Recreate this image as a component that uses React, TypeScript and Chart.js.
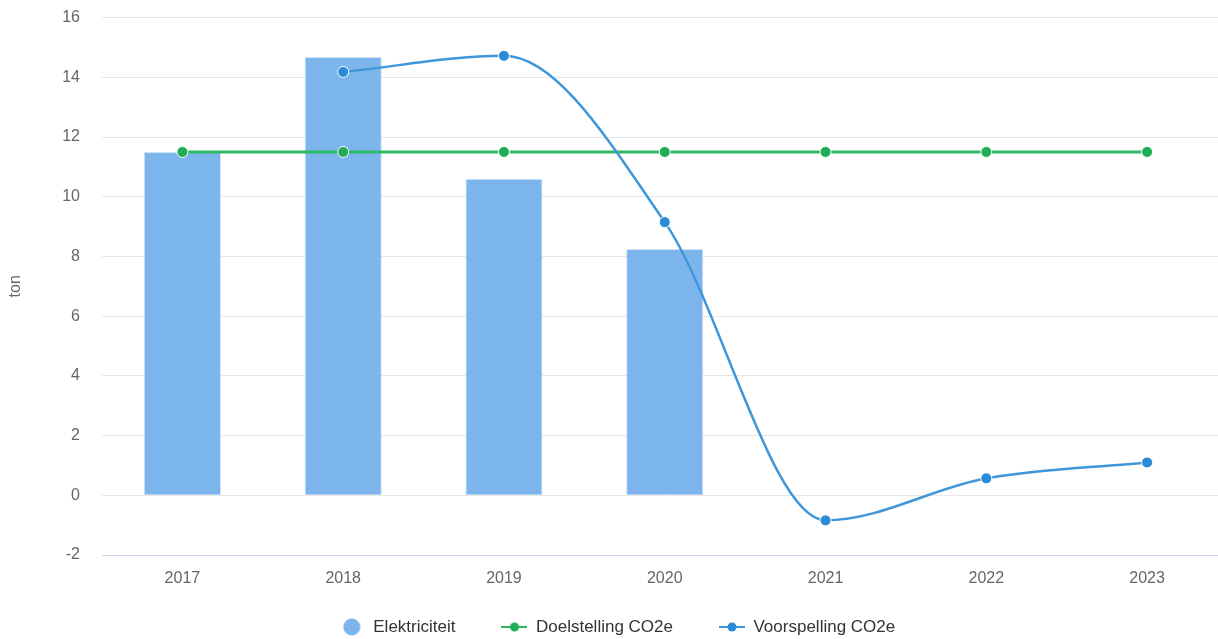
import React, { useEffect, useRef } from "react";
import { Chart, registerables } from "chart.js";

Chart.register(...registerables);

const categories = ["2017", "2018", "2019", "2020", "2021", "2022", "2023"];
const elektriciteit = [11.5, 14.68, 10.6, 8.25, null, null, null];
const doelstelling = [11.5, 11.5, 11.5, 11.5, 11.5, 11.5, 11.5];
const voorspelling = [null, 14.18, 14.72, 9.15, -0.84, 0.57, 1.1];
const yTicks = [-2, 0, 2, 4, 6, 8, 10, 12, 14, 16];

const FONT = "'Liberation Sans', Arial, Helvetica, sans-serif";
const SHIFT = 14;
const CANVAS_W = 1234;
const CANVAS_H = 639 + SHIFT;
const LEGEND_PAD = 46;

function makeLineSymbol(lineColor: string, dotColor: string): HTMLCanvasElement {
  const c = document.createElement("canvas");
  c.width = 26;
  c.height = 12;
  const ctx = c.getContext("2d")!;
  ctx.strokeStyle = lineColor;
  ctx.lineWidth = 2;
  ctx.beginPath();
  ctx.moveTo(0, 6);
  ctx.lineTo(26, 6);
  ctx.stroke();
  ctx.fillStyle = dotColor;
  ctx.beginPath();
  ctx.arc(13, 6, 4.5, 0, Math.PI * 2);
  ctx.fill();
  return c;
}

function makeCircleSymbol(color: string): HTMLCanvasElement {
  const c = document.createElement("canvas");
  c.width = 18;
  c.height = 18;
  const ctx = c.getContext("2d")!;
  ctx.fillStyle = color;
  ctx.beginPath();
  ctx.arc(9, 9, 8.5, 0, Math.PI * 2);
  ctx.fill();
  return c;
}

export default function App() {
  const ref = useRef<HTMLCanvasElement | null>(null);

  useEffect(() => {
    if (!ref.current) return;
    const symbols = [
      makeCircleSymbol("#7cb5ec"),
      makeLineSymbol("#2fb862", "#1fad56"),
      makeLineSymbol("#3f97da", "#2a8bd6"),
    ];
    const legendPlacePlugin = {
      id: "legendPlace",
      beforeInit(chart: any) {
        const orig = chart.legend.fit;
        chart.legend.fit = function () {
          orig.call(this);
          this.height = 40;
        };
      },
      afterLayout(chart: any) {
        chart.legend.top = 641 - 8.5 - LEGEND_PAD;
        chart.legend.bottom = CANVAS_H;
      },
    };
    const chart = new Chart(ref.current, {
      type: "bar",
      data: {
        labels: categories,
        datasets: [
          {
            type: "bar",
            label: "Elektriciteit",
            data: elektriciteit as any,
            backgroundColor: "#7cb5ec",
            borderColor: "#cfe2f6",
            borderWidth: 1,
            barPercentage: 0.48,
            categoryPercentage: 1,
            order: 3,
          },
          {
            type: "line",
            label: "Doelstelling CO2e",
            data: doelstelling,
            borderColor: "#2fb862",
            backgroundColor: "#1fad56",
            borderWidth: 3,
            pointRadius: 5.5,
            pointBorderColor: "#ffffff",
            pointBorderWidth: 1,
            pointBackgroundColor: "#1fad56",
            order: 2,
          },
          {
            type: "line",
            label: "Voorspelling CO2e",
            data: voorspelling as any,
            borderColor: "#3f97da",
            backgroundColor: "#2a8bd6",
            borderWidth: 2.5,
            cubicInterpolationMode: "monotone",
            pointRadius: 5.5,
            pointBorderColor: "#ffffff",
            pointBorderWidth: 1,
            pointBackgroundColor: "#2a8bd6",
            order: 1,
          },
        ],
      },
      options: {
        responsive: false,
        animation: false,
        devicePixelRatio: 1,
        layout: { padding: { top: 0, left: 0, right: 0, bottom: 0 } },
        plugins: {
          tooltip: { enabled: false },
          legend: {
            position: "bottom",
            labels: {
              usePointStyle: true,
              pointStyleWidth: 26,
              padding: LEGEND_PAD,
              color: "#333333",
              font: { family: FONT, size: 17 },
              generateLabels(chart: any) {
                const items = Chart.defaults.plugins.legend.labels.generateLabels(chart);
                items.sort((a: any, b: any) => a.datasetIndex - b.datasetIndex);
                items.forEach((it: any) => {
                  it.pointStyle = symbols[it.datasetIndex];
                });
                return items;
              },
            },
          },
        },
        scales: {
          x: {
            grid: { display: false, drawTicks: false },
            border: { display: true, color: "#ccd6eb", width: 1 },
            ticks: {
              color: "#666666",
              padding: 14,
              font: { family: FONT, size: 16 },
            },
            afterFit(scale: any) {
              scale.height = 44;
            },
          },
          y: {
            min: -2,
            max: 16,
            afterBuildTicks(scale: any) {
              scale.ticks = yTicks.map((v) => ({ value: v }));
            },
            grid: { color: "#e6e6e6", lineWidth: 1, drawTicks: false },
            border: { display: false },
            ticks: {
              color: "#666666",
              padding: 22,
              font: { family: FONT, size: 16 },
            },
            title: {
              display: true,
              text: "ton",
              color: "#666666",
              padding: { top: 6, bottom: 4 },
              font: { family: FONT, size: 16 },
            },
            afterFit(scale: any) {
              scale.width = 102;
            },
          },
        },
      },
      plugins: [legendPlacePlugin],
    } as any);
    return () => chart.destroy();
  }, []);

  return (
    <div
      style={{
        position: "absolute",
        left: 0,
        top: 0,
        width: 1218,
        height: 639,
        overflow: "hidden",
        background: "#ffffff",
      }}
    >
      <canvas
        ref={ref}
        width={CANVAS_W}
        height={CANVAS_H}
        style={{ width: CANVAS_W, height: CANVAS_H, display: "block", marginTop: -SHIFT }}
      />
    </div>
  );
}
